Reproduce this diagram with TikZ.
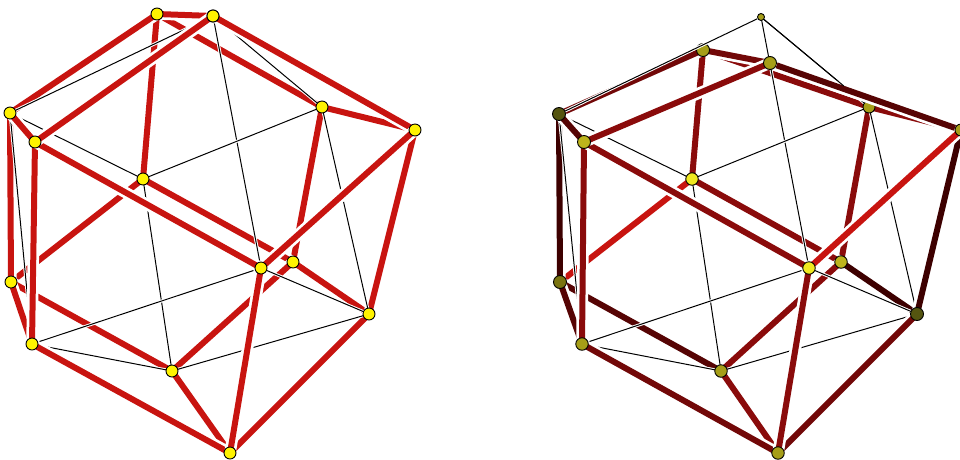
\documentclass[tikz,border=0pt]{standalone}
\usepackage{tikz}
\usetikzlibrary{calc}
\definecolor{RedA}{HTML}{C81410}
\definecolor{RedB}{HTML}{8A0B0B}
\definecolor{RedC}{HTML}{720808}
\definecolor{RedD}{HTML}{560404}
\definecolor{RedE}{HTML}{3D0000}
\definecolor{YelA}{HTML}{F0E820}
\definecolor{YelB}{HTML}{BDB41C}
\definecolor{YelC}{HTML}{A69E18}
\definecolor{YelD}{HTML}{7A7410}
\definecolor{YelE}{HTML}{555510}
\pgfdeclarelayer{back}
\pgfdeclarelayer{front}
\pgfsetlayers{back,main,front}
\tikzset{
  vtx/.style={circle,draw=black,line width=.9pt,inner sep=0pt,minimum size=12pt},
  bar/.style={line width=6pt,preaction={draw=white,line width=11.5pt}},
  wire/.style={black,line width=1pt,preaction={draw=white,line width=3pt}}
}
\begin{document}
\begin{tikzpicture}[x=1pt,y=-1pt]
  \useasboundingbox (0,0) rectangle (960,459);
  % left figure
  \foreach \n/\x/\y in {P/213/16,A/157/14,B/213/16,C/10/113,D/35/142,E/322/107,F/415/130,G/143/179,
                        H/261/268,I/293/262,J/11/282,K/32/344,L/172/371,M/369/314,N/230/453}
    \node[vtx,fill=yellow] (\n) at (\x,\y) {};
  \begin{pgfonlayer}{back}
    \foreach \a/\b in {A/E,E/I,E/F,G/J,J/L,J/K,C/J,G/I,I/L,I/M,F/M,M/N,L/N,A/G,A/C,A/B}
      \draw[bar,RedA] (\a.center) -- (\b.center);
    \foreach \a/\b in {P/C,P/E,P/H,C/G,G/E,G/L,E/M,C/K,H/M,H/K,K/L,L/M}
      \draw[wire] (\a.center) -- (\b.center);
    \foreach \a/\b in {C/D,D/K,K/N,H/N,D/H,B/D,B/F,F/H}
      \draw[bar,RedA] (\a.center) -- (\b.center);
  \end{pgfonlayer}
  % right figure
  \foreach \n/\x/\y/\c/\s in {Q/761/17/YelC/7,A2/703/50/YelC/13,B2/770/63/YelC/13,C2/559/114/YelE/13,
                              D2/584/142/YelB/13,E2/869/107/YelC/12,F2/961/130/YelC/12,G2/692/179/YelA/12.5,
                              H2/809/268/YelA/12.5,I2/841/262/YelB/12.5,J2/560/282/YelD/13,K2/582/344/YelC/12.5,
                              L2/721/371/YelC/12.5,M2/917/314/YelE/13,N2/778/453/YelC/12.5}
    \node[vtx,fill=\c,minimum size=\s pt] (\n) at (\x,\y) {};
  \begin{pgfonlayer}{back}
    \foreach \a/\b/\c in {A2/E2/RedB,E2/I2/RedB,E2/F2/RedB,G2/J2/RedA,J2/L2/RedD,J2/K2/RedD,C2/J2/RedE,
                          G2/I2/RedB,I2/L2/RedB,I2/M2/RedE,L2/N2/RedB,A2/G2/RedB,A2/C2/RedC,A2/B2/RedC}
      \draw[bar,\c] (\a.center) -- (\b.center);
    \foreach \a/\b in {Q/E2,Q/H2,C2/G2,G2/E2,G2/L2,E2/M2,C2/K2,H2/M2,H2/K2,K2/L2,L2/M2}
      \draw[wire] (\a.center) -- (\b.center);
    \foreach \a/\b/\c in {C2/D2/RedD,D2/K2/RedB,K2/N2/RedC,M2/N2/RedC,F2/M2/RedE,H2/N2/RedB,
                          D2/H2/RedB,B2/D2/RedB,F2/H2/RedA}
      \draw[bar,\c] (\a.center) -- (\b.center);
  \end{pgfonlayer}
  \begin{pgfonlayer}{front}
    \draw[bar,RedD] (B2) -- (F2);
    \coordinate (Q3) at ($(Q)!.767!(E2)$);
    \draw[black,line width=1pt] (Q) -- (Q3);
    \draw[wire] (Q) -- (C2);
  \end{pgfonlayer}
\end{tikzpicture}
\end{document}
